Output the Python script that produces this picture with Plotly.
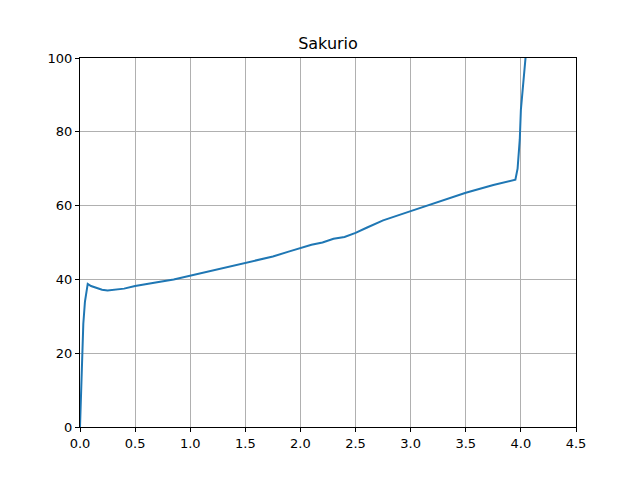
import plotly.graph_objects as go

x_vals = [0.0, 0.01, 0.02, 0.03, 0.045, 0.07, 0.1, 0.15, 0.2, 0.25, 0.3, 0.35, 0.4, 0.5, 0.6, 0.7,
          0.85, 1.0, 1.2, 1.4, 1.6, 1.75, 1.9, 2.0, 2.1, 2.2, 2.3, 2.4, 2.5, 2.6, 2.75, 3.0,
          3.25, 3.5, 3.75, 3.9, 3.95, 3.97, 3.99, 4.0, 4.02, 4.04, 4.06]
y_vals = [0.0, 8.0, 18.0, 28.0, 34.0, 38.8, 38.2, 37.6, 37.2, 37.0, 37.1, 37.2, 37.5, 38.2, 38.6, 39.2,
          40.0, 41.0, 42.4, 43.8, 45.0, 46.2, 47.6, 48.6, 49.4, 50.0, 51.0, 51.5, 52.6, 54.0, 56.0, 58.5,
          61.0, 63.5, 65.6, 66.5, 67.0, 70.0, 78.0, 86.0, 94.0, 100.0, 106.0]

fig = go.Figure()
fig.add_trace(go.Scatter(x=x_vals, y=y_vals, mode="lines",
                         line=dict(color="#1f77b4", width=2), showlegend=False))

axis_common = dict(showgrid=True, gridcolor="#b0b0b0", gridwidth=1, zeroline=False,
                   showline=True, linecolor="black", linewidth=1, mirror=True,
                   ticks="outside", ticklen=4, tickcolor="black",
                   tickfont=dict(family="DejaVu Sans", size=13, color="black"))

fig.update_layout(
    width=640, height=480,
    title=dict(text="Sakurio", x=0.5, xanchor="center", y=0.927, yanchor="middle",
               font=dict(family="DejaVu Sans", size=16, color="black")),
    xaxis=dict(range=[0, 4.5], dtick=0.5, tickformat=".1f", **axis_common),
    yaxis=dict(range=[0, 100], dtick=20, **axis_common),
    margin=dict(l=72, r=72, t=50, b=61),
    plot_bgcolor="white", paper_bgcolor="white",
)

fig.write_html("out.html")
